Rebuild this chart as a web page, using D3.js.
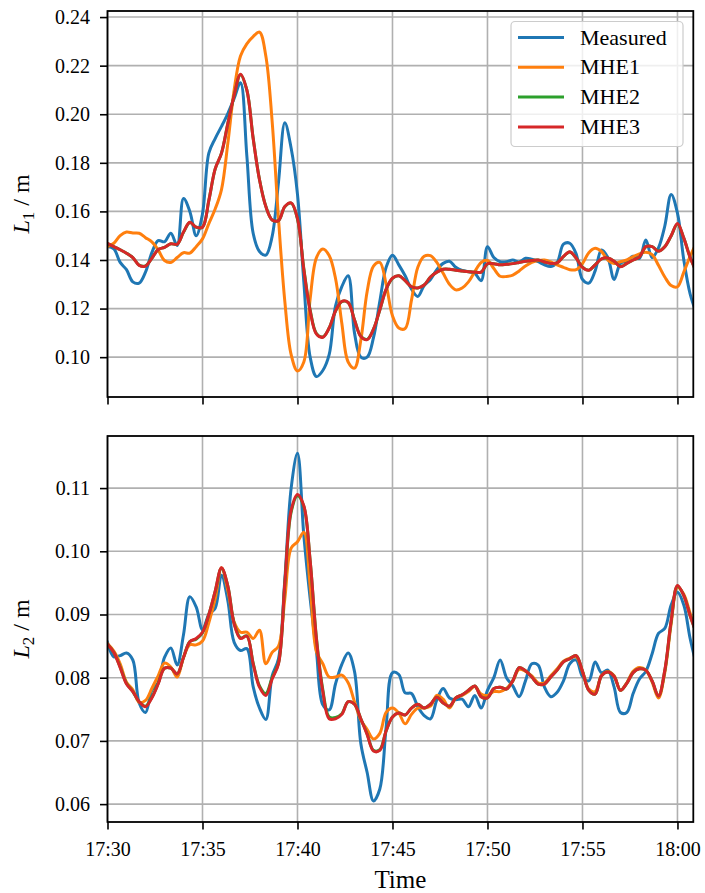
<!DOCTYPE html>
<html>
<head>
<meta charset="utf-8">
<script src="https://cdn.jsdelivr.net/npm/d3@7"></script>
<style>
  body { margin: 0; background: #fff; }
  svg { display: block; }
  text { font-family: "Liberation Serif", "DejaVu Serif", serif; fill: #000; }
</style>
</head>
<body>
<svg id="chart" width="705" height="893"></svg>
<script>
// Sampling: one value every 20 s starting at 17:30:00
const startTime = Date.UTC(2000, 0, 1, 17, 30, 0);
const endTime = Date.UTC(2000, 0, 1, 18, 0, 50);
const sampleStepSec = 20;

const seriesNames = ["Measured", "MHE1", "MHE2", "MHE3"];
const seriesColors = ["#1f77b4", "#ff7f0e", "#2ca02c", "#d62728"];

// Level L1 [m]
const l1Measured = [
  0.1455, 0.1446, 0.1390, 0.1360, 0.1310, 0.1305, 0.1350, 0.1430, 0.1480, 0.1475,
  0.1510, 0.1460, 0.1653, 0.1600, 0.1500, 0.1590, 0.1840, 0.1900, 0.1950, 0.2003,
  0.2065, 0.2130, 0.1830, 0.1510, 0.1435, 0.1420, 0.1497, 0.1720, 0.1965, 0.1860,
  0.1670, 0.1310, 0.1000, 0.0920, 0.0945, 0.1010, 0.1210, 0.1290, 0.1335, 0.1100,
  0.1000, 0.1000, 0.1080, 0.1230, 0.1370, 0.1420, 0.1380, 0.1335, 0.1280, 0.1250,
  0.1295, 0.1320, 0.1360, 0.1386, 0.1395, 0.1370, 0.1357, 0.1352, 0.1345, 0.1315,
  0.1455, 0.1410, 0.1393, 0.1393, 0.1400, 0.1392, 0.1407, 0.1403, 0.1393, 0.1380,
  0.1373, 0.1390, 0.1465, 0.1469, 0.1425, 0.1320, 0.1305, 0.1355, 0.1441, 0.1410,
  0.1320, 0.1386, 0.1396, 0.1415, 0.1407, 0.1482, 0.1410, 0.1450, 0.1540, 0.1670,
  0.1593, 0.1400, 0.1260, 0.1180
];
const l1Mhe1 = [
  0.1455, 0.1469, 0.1500, 0.1515, 0.1511, 0.1510, 0.1492, 0.1475, 0.1442, 0.1398,
  0.1390, 0.1410, 0.1430, 0.1428, 0.1455, 0.1487, 0.1550, 0.1610, 0.1690, 0.1880,
  0.2100, 0.2240, 0.2290, 0.2320, 0.2338, 0.2240, 0.1970, 0.1570, 0.1230, 0.1010,
  0.0943, 0.0980, 0.1240, 0.1410, 0.1445, 0.1418, 0.1325, 0.1140, 0.0980, 0.0955,
  0.1070, 0.1270, 0.1375, 0.1390, 0.1300, 0.1170, 0.1120, 0.1118, 0.1235, 0.1370,
  0.1415, 0.1418, 0.1390, 0.1345, 0.1300, 0.1277, 0.1285, 0.1310, 0.1352, 0.1390,
  0.1398, 0.1365, 0.1333, 0.1332, 0.1338, 0.1355, 0.1375, 0.1390, 0.1398, 0.1400,
  0.1392, 0.1380, 0.1370, 0.1360, 0.1360, 0.1385, 0.1430, 0.1448, 0.1435, 0.1400,
  0.1386, 0.1393, 0.1400, 0.1414, 0.1425, 0.1432, 0.1422, 0.1378, 0.1330, 0.1295,
  0.1290, 0.1350, 0.1415, 0.1470
];
const l1Mhe2 = [
  0.1468, 0.1455, 0.1442, 0.1428, 0.1410, 0.1379, 0.1376, 0.1407, 0.1443, 0.1452,
  0.1467, 0.1465, 0.1514, 0.1554, 0.1535, 0.1535, 0.1645, 0.1774, 0.1840, 0.1962,
  0.2077, 0.2163, 0.2100, 0.1902, 0.1731, 0.1621, 0.1565, 0.1562, 0.1619, 0.1634,
  0.1568, 0.1365, 0.1195, 0.1097, 0.1083, 0.1120, 0.1189, 0.1229, 0.1225, 0.1154,
  0.1086, 0.1073, 0.1115, 0.1194, 0.1279, 0.1324, 0.1335, 0.1315, 0.1290, 0.1285,
  0.1297, 0.1330, 0.1350, 0.1362, 0.1362, 0.1358, 0.1355, 0.1352, 0.1350, 0.1350,
  0.1384, 0.1385, 0.1380, 0.1382, 0.1385, 0.1390, 0.1395, 0.1398, 0.1400, 0.1392,
  0.1386, 0.1388, 0.1414, 0.1433, 0.1408, 0.1371, 0.1358, 0.1380, 0.1404, 0.1408,
  0.1395, 0.1373, 0.1386, 0.1400, 0.1413, 0.1454, 0.1455, 0.1437, 0.1455, 0.1499,
  0.1548, 0.1490, 0.1411, 0.1350
];
const l1Mhe3 = [
  0.1469, 0.1455, 0.1442, 0.1428, 0.1410, 0.1378, 0.1375, 0.1407, 0.1443, 0.1452,
  0.1467, 0.1465, 0.1515, 0.1555, 0.1535, 0.1535, 0.1645, 0.1775, 0.1840, 0.1962,
  0.2078, 0.2165, 0.2100, 0.1900, 0.1730, 0.1620, 0.1565, 0.1562, 0.1620, 0.1635,
  0.1570, 0.1360, 0.1190, 0.1095, 0.1082, 0.1120, 0.1190, 0.1230, 0.1225, 0.1153,
  0.1085, 0.1072, 0.1115, 0.1195, 0.1280, 0.1325, 0.1335, 0.1315, 0.1290, 0.1285,
  0.1297, 0.1330, 0.1350, 0.1362, 0.1362, 0.1358, 0.1355, 0.1352, 0.1350, 0.1350,
  0.1385, 0.1385, 0.1380, 0.1382, 0.1385, 0.1390, 0.1395, 0.1398, 0.1400, 0.1392,
  0.1386, 0.1388, 0.1415, 0.1434, 0.1408, 0.1370, 0.1358, 0.1380, 0.1405, 0.1408,
  0.1395, 0.1372, 0.1386, 0.1400, 0.1413, 0.1455, 0.1455, 0.1436, 0.1455, 0.1500,
  0.1550, 0.1490, 0.1410, 0.1350
];

// Level L2 [m]
const l2Measured = [
  0.0856, 0.0833, 0.0835, 0.0839, 0.0828, 0.0760, 0.0745, 0.0780, 0.0792, 0.0832,
  0.0847, 0.0820, 0.0868, 0.0928, 0.0912, 0.0876, 0.0900, 0.0910, 0.0962, 0.0922,
  0.0856, 0.0843, 0.0846, 0.0786, 0.0752, 0.0734, 0.0803, 0.0830, 0.0955, 0.1100,
  0.1155, 0.1025, 0.0925, 0.0841, 0.0757, 0.0749, 0.0790, 0.0821, 0.0839, 0.0810,
  0.0696, 0.0650, 0.0605, 0.0624, 0.0722, 0.0808, 0.0805, 0.0776, 0.0775, 0.0754,
  0.0740, 0.0735, 0.0765, 0.0783, 0.0768, 0.0765, 0.0766, 0.0754, 0.0772, 0.0752,
  0.0780, 0.0800, 0.0828, 0.0800, 0.0787, 0.0770, 0.0795, 0.0822, 0.0820, 0.0785,
  0.0770, 0.0777, 0.0795, 0.0822, 0.0828, 0.0802, 0.0795, 0.0825, 0.0808, 0.0812,
  0.0785, 0.0745, 0.0745, 0.0775, 0.0798, 0.0810, 0.0838, 0.0870, 0.0878, 0.0915,
  0.0935, 0.0915, 0.0862, 0.0820
];
const l2Mhe1 = [
  0.0854, 0.0842, 0.0822, 0.0793, 0.0781, 0.0761, 0.0764, 0.0783, 0.0803, 0.0823,
  0.0817, 0.0801, 0.0832, 0.0852, 0.0852, 0.0858, 0.0887, 0.0925, 0.0974, 0.0938,
  0.0888, 0.0872, 0.0872, 0.0862, 0.0875, 0.0822, 0.0840, 0.0850, 0.0925, 0.1005,
  0.1015, 0.1030, 0.0945, 0.0841, 0.0822, 0.0801, 0.0801, 0.0804, 0.0792, 0.0762,
  0.0733, 0.0718, 0.0703, 0.0712, 0.0745, 0.0752, 0.0744, 0.0727, 0.0742, 0.0752,
  0.0752, 0.0755, 0.0772, 0.0766, 0.0752, 0.0768, 0.0772, 0.0778, 0.0786, 0.0774,
  0.0772, 0.0778, 0.0778, 0.0783, 0.0795, 0.0813, 0.0810, 0.0803, 0.0792, 0.0792,
  0.0803, 0.0814, 0.0826, 0.0831, 0.0833, 0.0810, 0.0782, 0.0778, 0.0803, 0.0810,
  0.0803, 0.0780, 0.0792, 0.0810, 0.0816, 0.0812, 0.0793, 0.0768, 0.0808, 0.0885,
  0.0943, 0.0932, 0.0902, 0.0875
];
const l2Mhe2 = [
  0.0853, 0.0840, 0.0817, 0.0791, 0.0778, 0.0762, 0.0755, 0.0769, 0.0791, 0.0815,
  0.0815, 0.0806, 0.0832, 0.0857, 0.0861, 0.0871, 0.0900, 0.0936, 0.0973, 0.0945,
  0.0886, 0.0863, 0.0866, 0.0823, 0.0787, 0.0775, 0.0800, 0.0823, 0.0948, 0.1062,
  0.1088, 0.1071, 0.0985, 0.0862, 0.0781, 0.0738, 0.0737, 0.0743, 0.0762, 0.0758,
  0.0735, 0.0711, 0.0685, 0.0686, 0.0716, 0.0738, 0.0744, 0.0741, 0.0752, 0.0758,
  0.0752, 0.0758, 0.0769, 0.0760, 0.0755, 0.0768, 0.0773, 0.0780, 0.0787, 0.0770,
  0.0768, 0.0783, 0.0785, 0.0782, 0.0795, 0.0816, 0.0811, 0.0801, 0.0790, 0.0790,
  0.0801, 0.0812, 0.0825, 0.0830, 0.0835, 0.0810, 0.0780, 0.0774, 0.0803, 0.0809,
  0.0802, 0.0780, 0.0791, 0.0808, 0.0814, 0.0812, 0.0795, 0.0771, 0.0811, 0.0889,
  0.0945, 0.0930, 0.0898, 0.0870
];
const l2Mhe3 = [
  0.0853, 0.0840, 0.0816, 0.0790, 0.0778, 0.0762, 0.0754, 0.0768, 0.0790, 0.0815,
  0.0815, 0.0806, 0.0832, 0.0857, 0.0862, 0.0872, 0.0900, 0.0937, 0.0974, 0.0945,
  0.0885, 0.0862, 0.0866, 0.0822, 0.0785, 0.0772, 0.0798, 0.0822, 0.0950, 0.1065,
  0.1090, 0.1072, 0.0985, 0.0860, 0.0778, 0.0735, 0.0735, 0.0742, 0.0762, 0.0758,
  0.0735, 0.0710, 0.0684, 0.0685, 0.0716, 0.0738, 0.0744, 0.0741, 0.0752, 0.0758,
  0.0752, 0.0758, 0.0769, 0.0760, 0.0755, 0.0768, 0.0773, 0.0780, 0.0787, 0.0770,
  0.0768, 0.0783, 0.0785, 0.0782, 0.0795, 0.0816, 0.0811, 0.0801, 0.0790, 0.0790,
  0.0801, 0.0812, 0.0825, 0.0830, 0.0835, 0.0810, 0.0780, 0.0774, 0.0803, 0.0809,
  0.0802, 0.0780, 0.0791, 0.0808, 0.0814, 0.0812, 0.0795, 0.0771, 0.0812, 0.0890,
  0.0946, 0.0930, 0.0898, 0.0870
];

const l1TickValues = [0.10, 0.12, 0.14, 0.16, 0.18, 0.20, 0.22, 0.24];
const l2TickValues = [0.06, 0.07, 0.08, 0.09, 0.10, 0.11];
const timeTickMinutes = [0, 5, 10, 15, 20, 25, 30];

// ---- layout ----
const plotLeft = 107.5, plotRight = 693.3;
const svg = d3.select("#chart");

const x = d3.scaleUtc().domain([new Date(startTime), new Date(endTime)]).range([plotLeft, plotRight]);
const timeTicks = timeTickMinutes.map(m => new Date(startTime + m * 60000));
const fmtTime = d3.utcFormat("%H:%M");

const panels = [
  { top: 11, bottom: 397, domain: [0.0836, 0.2425], ticks: l1TickValues,
    sub: "1", series: [l1Measured, l1Mhe1, l1Mhe2, l1Mhe3], showX: false, legend: true },
  { top: 436, bottom: 822, domain: [0.05717, 0.11824], ticks: l2TickValues,
    sub: "2", series: [l2Measured, l2Mhe1, l2Mhe2, l2Mhe3], showX: true, legend: false }
];

const gridColor = "#b0b0b0";
const fontSize = 20;

panels.forEach((p, pi) => {
  const y = d3.scaleLinear().domain(p.domain).range([p.bottom, p.top]);
  const g = svg.append("g");

  // clip region for the curves
  const clipId = "clip" + pi;
  svg.append("defs").append("clipPath").attr("id", clipId)
    .append("rect").attr("x", plotLeft).attr("y", p.top)
    .attr("width", plotRight - plotLeft).attr("height", p.bottom - p.top);

  // grid
  g.append("g").selectAll("line").data(timeTicks).join("line")
    .attr("x1", d => x(d)).attr("x2", d => x(d))
    .attr("y1", p.top).attr("y2", p.bottom)
    .attr("stroke", gridColor).attr("stroke-width", 1.6);
  g.append("g").selectAll("line").data(p.ticks).join("line")
    .attr("x1", plotLeft).attr("x2", plotRight)
    .attr("y1", d => y(d)).attr("y2", d => y(d))
    .attr("stroke", gridColor).attr("stroke-width", 1.6);

  // curves
  const line = d3.line()
    .x((d, i) => x(new Date(startTime + i * sampleStepSec * 1000)))
    .y(d => y(d))
    .curve(d3.curveCatmullRom.alpha(0.5));
  const curves = g.append("g").attr("clip-path", `url(#${clipId})`);
  p.series.forEach((vals, si) => {
    curves.append("path").datum(vals)
      .attr("d", line)
      .attr("fill", "none")
      .attr("stroke", seriesColors[si])
      .attr("stroke-width", 3)
      .attr("stroke-linejoin", "round")
      .attr("stroke-linecap", "square");
  });

  // axes
  const yAxis = d3.axisLeft(y).tickValues(p.ticks).tickFormat(d3.format(".2f")).tickSize(7.5).tickPadding(10);
  const ya = g.append("g").attr("transform", `translate(${plotLeft},0)`).call(yAxis);
  const xAxis = d3.axisBottom(x).tickValues(timeTicks).tickSize(7.5).tickPadding(12)
    .tickFormat(p.showX ? fmtTime : () => "");
  const xa = g.append("g").attr("transform", `translate(0,${p.bottom})`).call(xAxis);
  [ya, xa].forEach(a => {
    a.select(".domain").remove();
    a.selectAll(".tick line").attr("stroke", "#000").attr("stroke-width", 1.6);
    a.selectAll(".tick text").attr("font-size", fontSize)
      .attr("font-family", "Liberation Serif, serif").attr("fill", "#000");
  });

  // frame
  g.append("rect").attr("x", plotLeft).attr("y", p.top)
    .attr("width", plotRight - plotLeft).attr("height", p.bottom - p.top)
    .attr("fill", "none").attr("stroke", "#000").attr("stroke-width", 1.8);

  // y label
  const ly = (p.top + p.bottom) / 2;
  const lab = svg.append("text")
    .attr("transform", `translate(29,${ly}) rotate(-90)`)
    .attr("text-anchor", "middle")
    .attr("font-size", 24);
  lab.append("tspan").attr("font-style", "italic").text("L");
  lab.append("tspan").attr("font-size", 17).attr("dy", 5).text(p.sub);
  lab.append("tspan").attr("dy", -5).text(" / m");

  // legend
  if (p.legend) {
    const lg = svg.append("g");
    lg.append("rect").attr("x", 511).attr("y", 21.5).attr("width", 172).attr("height", 125)
      .attr("rx", 4).attr("fill", "#fff").attr("fill-opacity", 0.8)
      .attr("stroke", "#cccccc").attr("stroke-width", 1.2);
    seriesNames.forEach((name, i) => {
      const ry = 37.5 + i * 29.8;
      lg.append("line").attr("x1", 518).attr("x2", 564).attr("y1", ry).attr("y2", ry)
        .attr("stroke", seriesColors[i]).attr("stroke-width", 3);
      lg.append("text").attr("x", 580).attr("y", ry + 7).attr("font-size", 22).text(name);
    });
  }
});

// x label
svg.append("text").attr("x", (plotLeft + plotRight) / 2).attr("y", 888)
  .attr("text-anchor", "middle").attr("font-size", 25).text("Time");
</script>
</body>
</html>
